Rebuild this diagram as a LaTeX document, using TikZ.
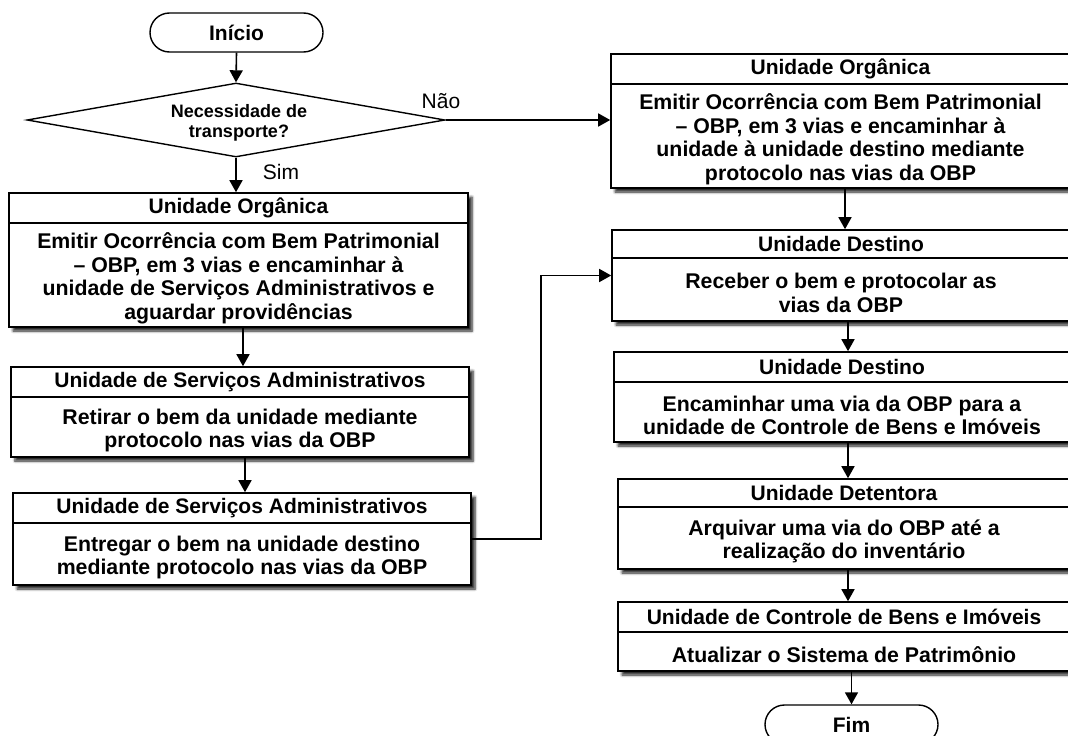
\documentclass[tikz,border=0pt]{standalone}
\usepackage{fontspec}
\setmainfont{Liberation Sans}
\usetikzlibrary{arrows.meta,shapes.geometric,shapes.misc,shadows.blur,calc}

% process box: name, left, top, right, bottom, header-line y, header text, body text
\newcommand\procbox[8]{%
  \node[procstyle, minimum width={#4pt-#2pt}, minimum height={#5pt-#3pt}]
    (#1) at ({(#2+#4)/2},{(#3+#5)/2}) {};
  \draw[boxline] (#1.west |- 0,#6) -- (#1.east |- 0,#6);
  \node[hdrtext] (#1-h) at ({(#2+#4)/2},{(#3+#6)/2}) {#7};
  \node[bodytext] (#1-b) at ({(#2+#4)/2},{(#6+#5)/2+3.5}) {#8};
}

\begin{document}
\begin{tikzpicture}[x=1pt,y=-1pt,
  boxline/.style={line width=1.6pt},
  procstyle/.style={draw, rectangle, line width=1.6pt, fill=white, inner sep=0pt,
    blur shadow={shadow xshift=4pt, shadow yshift=-4pt, shadow blur radius=2.5pt,
      shadow blur steps=6, shadow opacity=85}},
  hdrtext/.style={font=\fontsize{21}{24}\selectfont\bfseries, inner sep=0pt},
  bodytext/.style={font=\fontsize{21.3}{23.5}\selectfont\bfseries, align=center, inner sep=0pt},
  termstyle/.style={draw, rounded rectangle, line width=1.4pt, fill=white,
    minimum width=173pt, minimum height=39pt, inner sep=0pt,
    font=\fontsize{21}{24}\selectfont\bfseries},
  decstyle/.style={draw, diamond, line width=1.4pt, fill=white, aspect=5.65,
    minimum width=418pt, minimum height=74pt, inner sep=0pt},
  dectext/.style={align=center, inner sep=0pt, font=\fontsize{18}{20}\selectfont\bfseries},
  lbl/.style={font=\fontsize{21}{24}\selectfont, inner sep=0pt},
  arr/.style={-{Triangle[width=13pt,length=12pt]}, line width=1.6pt}
]
\useasboundingbox (0,0) rectangle (1068,736);

% start and decision
\node[termstyle] (start) at (236.5,32.5) {Início};
\node[decstyle] (dec) at (236,120) {};
\node[dectext] (dec-t) at ($(dec.center)+(3,3)$) {Necessidade de\\transporte?};

% left column
\procbox{B1}{9}{193}{468}{327}{223}{Unidade Orgânica}
  {Emitir Ocorrência com Bem Patrimonial\\– OBP, em 3 vias e encaminhar à\\unidade de Serviços Administrativos e\\aguardar providências}
\procbox{B2}{11}{367}{469}{457}{397}{Unidade de Serviços Administrativos}
  {Retirar o bem da unidade mediante\\protocolo nas vias da OBP}
\procbox{B3}{13}{493}{471}{585}{523}{Unidade de Serviços Administrativos}
  {Entregar o bem na unidade destino\\mediante protocolo nas vias da OBP}

% right column
\procbox{R1}{611}{54}{1070}{188}{84}{Unidade Orgânica}
  {Emitir Ocorrência com Bem Patrimonial\\– OBP, em 3 vias e encaminhar à\\unidade à unidade destino mediante\\protocolo nas vias da OBP}
\procbox{R2}{612}{230}{1070}{321}{258}{Unidade Destino}
  {Receber o bem e protocolar as\\vias da OBP}
\procbox{R3}{614}{352}{1070}{442}{382}{Unidade Destino}
  {Encaminhar uma via da OBP para a\\unidade de Controle de Bens e Imóveis}
\procbox{R4}{618}{479}{1070}{569}{507}{Unidade Detentora}
  {Arquivar uma via do OBP até a\\realização do inventário}
\procbox{R5}{618}{602}{1070}{671}{632}{Unidade de Controle de Bens e Imóveis}
  {Atualizar o Sistema de Patrimônio}

\node[termstyle] (fim) at (851.5,724.5) {Fim};

% connector x positions
\coordinate (lx1) at (243,0);
\coordinate (lx2) at (245,0);
\coordinate (rx1) at (845,0);
\coordinate (rx2) at (848,0);
\coordinate (jog) at (541,0);

% connectors
\draw[arr] (start.south) -- (dec.north);
\draw[arr] (dec.south) -- (B1.north -| dec.south);
\draw[arr] (B1.south -| lx1) -- (B2.north -| lx1);
\draw[arr] (B2.south -| lx2) -- (B3.north -| lx2);
\draw[arr] (dec.east) -- (R1.west |- dec.east);
\draw[arr] (B3.east) -- (B3.east -| jog) |- (R2.west);
\draw[arr] (R1.south -| rx1) -- (R2.north -| rx1);
\draw[arr] (R2.south -| rx2) -- (R3.north -| rx2);
\draw[arr] (R3.south -| rx2) -- (R4.north -| rx2);
\draw[arr] (R4.south -| rx2) -- (R5.north -| rx2);
\draw[arr] (R5.south -| fim.north) -- (fim.north);

% branch labels
\node[lbl] (nao) at (441,101) {Não};
\node[lbl] (sim) at (281,172) {Sim};
\end{tikzpicture}
\end{document}
